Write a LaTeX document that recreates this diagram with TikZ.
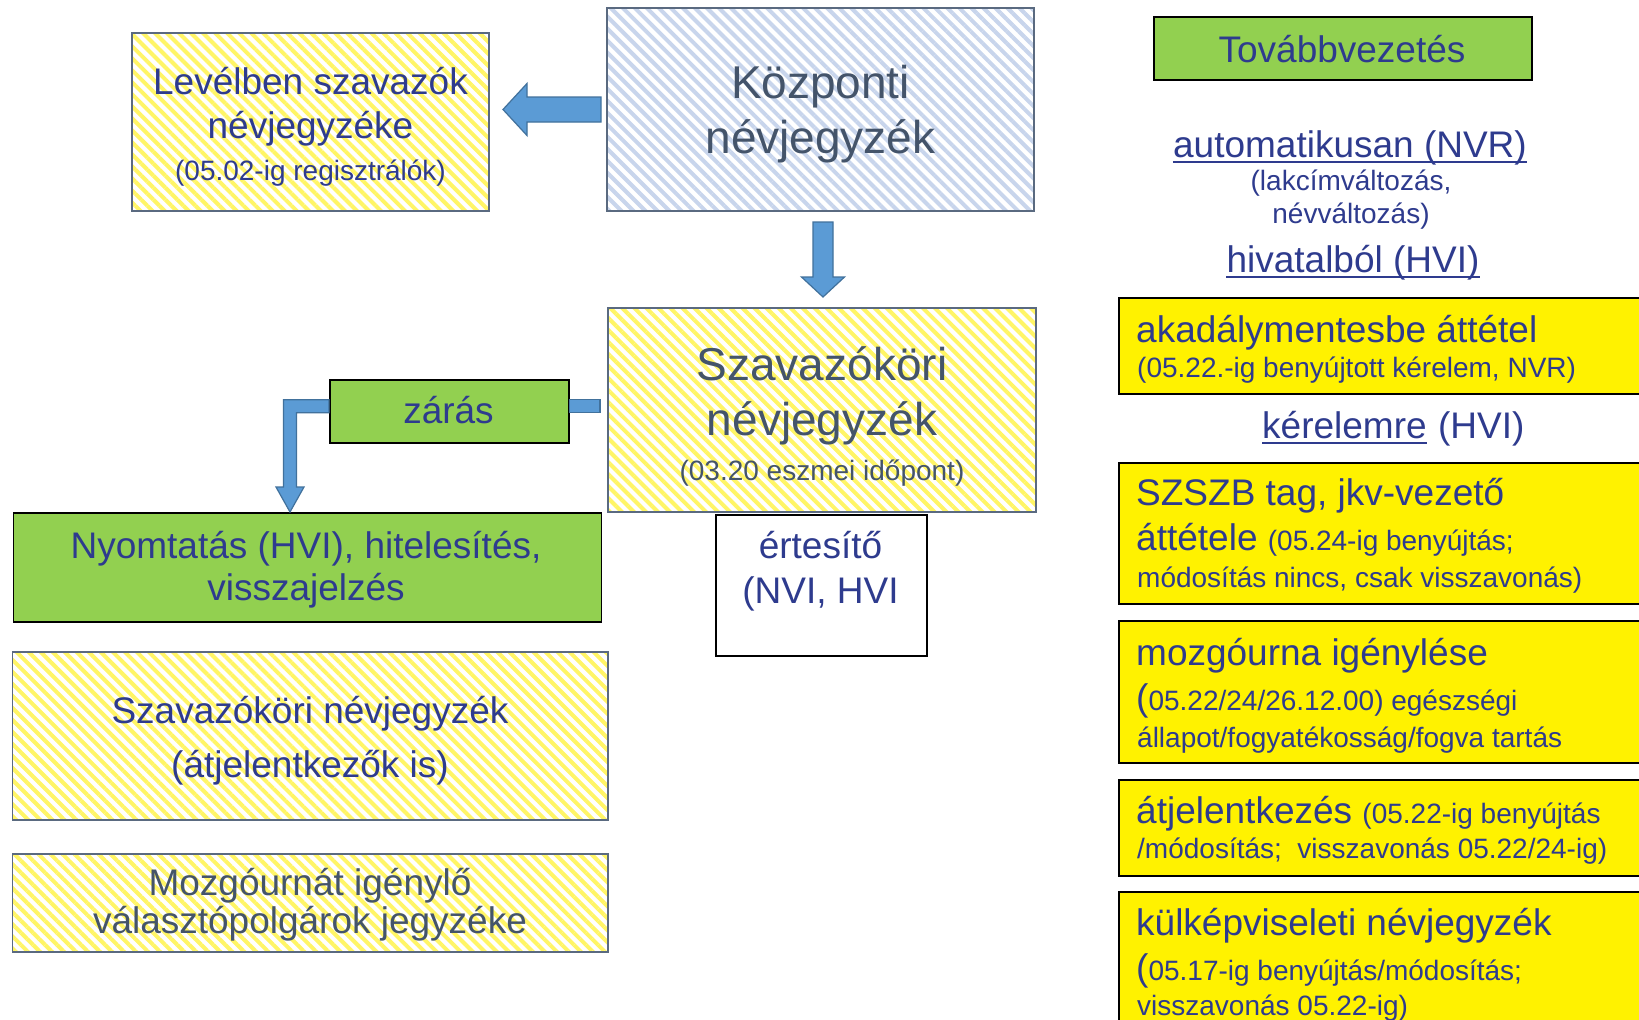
\documentclass[tikz,border=0pt]{standalone}
\usepackage{fontspec}
\setmainfont{Liberation Sans}
\usetikzlibrary{positioning, calc, patterns.meta}
\definecolor{navytext}{HTML}{2E3B8E}
\definecolor{slatetext}{HTML}{44546A}
\definecolor{hatchyel}{HTML}{FFF566}
\definecolor{hatchblue}{HTML}{C8D5EC}
\definecolor{hatchedge}{HTML}{5A6A80}
\definecolor{boxgreen}{HTML}{92D050}
\definecolor{arrowfill}{HTML}{5B9BD5}
\definecolor{arrowedge}{HTML}{41719C}
\newcommand{\szbig}{\fontsize{46}{55}\selectfont}
\newcommand{\szmain}{\fontsize{37}{44}\selectfont}
\newcommand{\szsmall}{\fontsize{28}{33}\selectfont}

\tikzset{
  hatchbox/.style={draw=hatchedge, line width=1.2pt, anchor=north west, inner sep=0pt, outer sep=0pt},
  yelhatch/.style={hatchbox, pattern={Lines[angle=-45,distance=8.5pt,line width=4pt]}, pattern color=hatchyel},
  bluehatch/.style={hatchbox, pattern={Lines[angle=-45,distance=8.5pt,line width=4pt]}, pattern color=hatchblue},
  greenbox/.style={fill=boxgreen, draw=black, line width=1.5pt, anchor=north west, inner sep=0pt},
  plainbox/.style={fill=white, draw=black, line width=1.5pt, anchor=north west, inner sep=0pt},
  yelbox/.style={fill=yellow, draw=black, line width=1.6pt, anchor=north west, inner sep=0pt, minimum width=560},
  lbl/.style={anchor=base, inner sep=0pt, text=navytext},
  lblL/.style={lbl, anchor=base west},
  blockarrow/.style={fill=arrowfill, draw=arrowedge, line width=1.2pt, line join=miter},
  uline/.style={draw=navytext, line width=1.8pt}
}

\begin{document}
\begin{tikzpicture}[x=1pt, y=-1pt]
  % page frame
  \useasboundingbox (0,0) rectangle (1639,1020);
  \clip (0,0) rectangle (1639,1020);
  \fill[white] (0,0) rectangle (1639,1020);

  % Top row (LEFT: postal voters, MIDDLE: central register)
  \node[yelhatch, minimum width=357, minimum height=178] (levl) at (132,33) {};
  \node[lbl, font=\szmain] (levl1) at (310.5,94) {Levélben szavazók};
  \node[lbl, font=\szmain] (levl2) at (310.5,138) {névjegyzéke};
  \node[lbl, font=\szsmall] (levl3) at (310.5,180) {(05.02-ig regisztrálók)};

  \node[bluehatch, minimum width=427, minimum height=203] (kozp) at (607,8) {};
  \node[lbl, text=slatetext, font=\szbig] (kozp1) at (820.5,98) {Központi};
  \node[lbl, text=slatetext, font=\szbig] (kozp2) at (820.5,153) {névjegyzék};

  % Arrow to the left
  \coordinate (lt) at ($(levl.east |- kozp.west)+(14,0)$);
  \draw[blockarrow] ($(kozp.west)+(-6,-12.5)$) -- ($(lt)+(24,-12.5)$) -- ($(lt)+(24,-26)$) -- (lt)
    -- ($(lt)+(24,26)$) -- ($(lt)+(24,12.5)$) -- ($(kozp.west)+(-6,12.5)$) -- cycle;

  % Polling district register
  \node[yelhatch, minimum width=428, minimum height=204] (szav) at (608,308) {};
  \node[lbl, text=slatetext, font=\szbig] (szav1) at (822,380) {Szavazóköri};
  \node[lbl, text=slatetext, font=\szbig] (szav2) at (822,435) {névjegyzék};
  \node[lbl, text=slatetext, font=\szsmall] (szav3) at (822,480) {(03.20 eszmei időpont)};

  % Arrow down
  \coordinate (dt) at ($(szav.north)+(1,-11)$);
  \draw[blockarrow] ($(kozp.south)+(-7.5,11)$) -- ($(kozp.south)+(12.5,11)$) -- ($(dt)+(10,-20)$)
    -- ($(dt)+(21.5,-20)$) -- (dt) -- ($(dt)+(-21.5,-20)$) -- ($(dt)+(-10,-20)$) -- cycle;

  % Notification
  \node[plainbox, minimum width=211, minimum height=141] (ert) at (715,514) {};
  \node[lbl, font=\szmain] (ert1) at (820.5,558) {értesítő};
  \node[lbl, font=\szmain] (ert2) at (820.5,603) {(NVI, HVI};

  % Closing and printing
  \node[greenbox, minimum width=239, minimum height=63] (zarb) at (329,379) {};
  \node[lbl, font=\szmain] (zart) at (448.5,423) {zárás};
  \node[greenbox, minimum width=588, minimum height=109] (nyom) at (12.5,512) {};
  \node[lbl, font=\szmain] (nyom1) at (306,558) {Nyomtatás (HVI), hitelesítés,};
  \node[lbl, font=\szmain] (nyom2) at (306,600) {visszajelzés};

  \draw[blockarrow] ($(zarb.east)+(0,-11.5)$) rectangle ($(szav.west |- zarb.east)+(-8,1.5)$);
  \coordinate (bw) at ($(zarb.west)+(0,-5)$);
  \coordinate (bx) at ($(bw)+(-39,0)$);
  \coordinate (bt) at (bx |- nyom.north);
  \draw[blockarrow] ($(bw)+(0,-6.5)$) -- ($(bx)+(-6.5,-6.5)$) -- ($(bt)+(-6.5,-25)$) -- ($(bt)+(-14,-25)$)
    -- (bt) -- ($(bt)+(14,-25)$) -- ($(bt)+(6.5,-25)$) -- ($(bx)+(6.5,6.5)$) -- ($(bw)+(0,6.5)$) -- cycle;

  % Bottom left lists
  \node[yelhatch, minimum width=595.5, minimum height=168] (szk) at (12.5,652) {};
  \node[lbl, font=\szmain] (szk1) at (310,723) {Szavazóköri névjegyzék};
  \node[lbl, font=\szmain] (szk2) at (310,777) {(átjelentkezők is)};
  \node[yelhatch, minimum width=595.5, minimum height=98] (mozl) at (12.5,854) {};
  \node[lbl, text=slatetext, font=\szmain] (mozl1) at (310,895) {Mozgóurnát igénylő};
  \node[lbl, text=slatetext, font=\szmain] (mozl2) at (310,933) {választópolgárok jegyzéke};

  % Right column (header and channels)
  \node[greenbox, minimum width=378, minimum height=63] (tovb) at (1153,16) {};
  \node[lbl, font=\szmain] (tovt) at (1342,62) {Továbbvezetés};

  \node[lbl, font=\szmain] (auto) at (1350,157) {automatikusan (NVR)};
  \draw[uline] ($(auto.base west)+(0,5)$) -- ($(auto.base east)+(0,5)$);
  \node[lbl, font=\szsmall] (auto1) at (1351,190) {(lakcímváltozás,};
  \node[lbl, font=\szsmall] (auto2) at (1351,223) {névváltozás)};
  \node[lbl, font=\szmain] (hiv) at (1353,272) {hivatalból (HVI)};
  \draw[uline] ($(hiv.base west)+(0,5)$) -- ($(hiv.base east)+(0,5)$);

  \node[lblL, font=\szmain] (kerl) at (1262,438) {kérelemre};
  \draw[uline] ($(kerl.base west)+(0,5)$) -- ($(kerl.base east)+(0,5)$);
  \node[lblL, font=\szmain] (kerh) at ($(kerl.base east)+(11,0)$) {(HVI)};

  % Right column yellow boxes
  \foreach \nm/\y/\h in {akad/297/96, szszb/462/141, mozgo/620/142, atjel/779/96, kulk/891/160}
    \node[yelbox, minimum height=\h] (\nm) at (1118,\y) {};

  \node[lblL, font=\szmain] (akad1) at (1136,342) {akadálymentesbe áttétel};
  \node[lblL, font=\szsmall] (akad2) at (1137,377) {(05.22.-ig benyújtott kérelem, NVR)};

  \node[lblL, font=\szmain] (szszb1) at (1136,505) {SZSZB tag, jkv-vezető};
  \node[lblL, font=\szmain] (szszb2) at (1136,550) {áttétele {\szsmall(05.24-ig benyújtás;}};
  \node[lblL, font=\szsmall] (szszb3) at (1137,587) {módosítás nincs, csak visszavonás)};

  \node[lblL, font=\szmain] (mozgo1) at (1136,665) {mozgóurna igénylése};
  \node[lblL, font=\szmain] (mozgo2) at (1136,710) {({\szsmall 05.22/24/26.12.00) egészségi}};
  \node[lblL, font=\szsmall] (mozgo3) at (1137,747) {állapot/fogyatékosság/fogva tartás};

  \node[lblL, font=\szmain] (atjel1) at (1136,823) {átjelentkezés {\szsmall(05.22-ig benyújtás}};
  \node[lblL, font=\szsmall] (atjel2) at (1137,858) {/módosítás; \ visszavonás 05.22/24-ig)};

  \node[lblL, font=\szmain] (kulk1) at (1136,935) {külképviseleti névjegyzék};
  \node[lblL, font=\szmain] (kulk2) at (1136,980) {({\szsmall 05.17-ig benyújtás/módosítás;}};
  \node[lblL, font=\szsmall] (kulk3) at (1137,1015) {visszavonás 05.22-ig)};
\end{tikzpicture}
\end{document}
